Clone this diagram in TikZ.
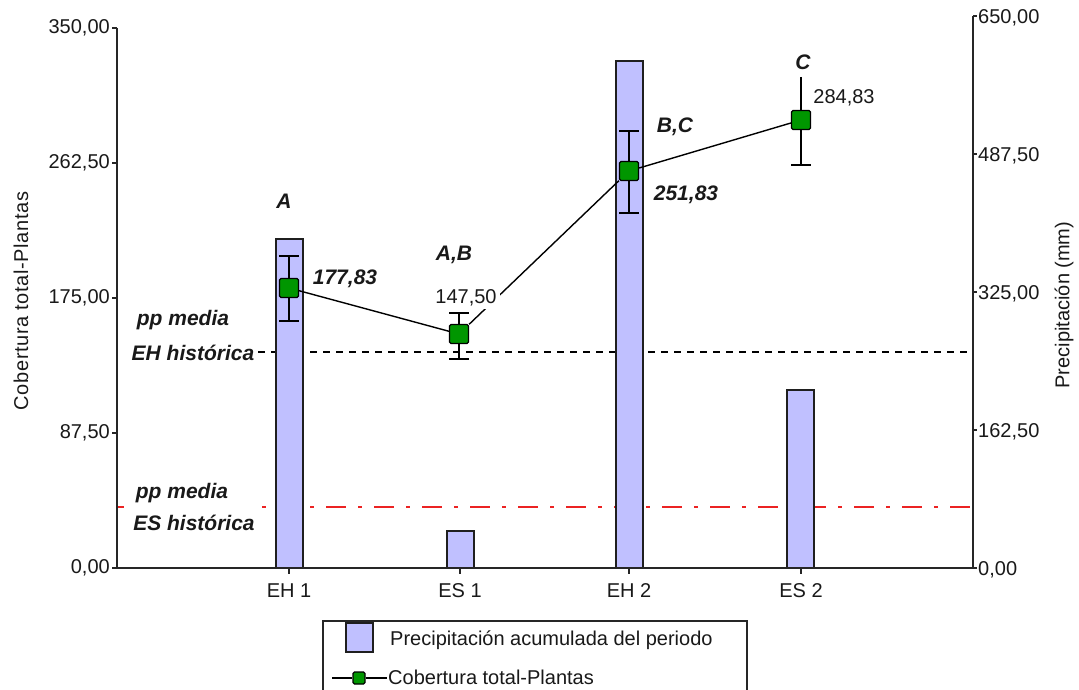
\documentclass[tikz,border=0pt]{standalone}
\usepackage{fontspec}
\setmainfont{Liberation Sans}
\definecolor{barfill}{RGB}{192,192,255}
\definecolor{ptgreen}{RGB}{0,150,0}
\definecolor{txt}{RGB}{25,25,25}
\definecolor{ppred}{RGB}{235,35,35}
\begin{document}
\begin{tikzpicture}[x=1pt,y=-1pt,
  font=\fontsize{20}{24}\selectfont, text=txt,
  axis/.style={line width=2pt, draw=black!85},
  tickmark/.style={line width=1.4pt, draw=black!85},
  barbox/.style={draw=black!88, line width=1.8pt, fill=barfill},
  errbar/.style={line width=1.4pt, draw=black},
  ptbox/.style={rectangle, draw=black, fill=ptgreen, line width=1.2pt, minimum size=19pt, inner sep=0pt, rounded corners=1.5pt},
  conn/.style={line width=1.4pt, draw=black},
  ticklbl/.style={inner sep=0pt},
  sig/.style={font=\fontsize{21}{25}\selectfont\bfseries\itshape, inner sep=1pt},
  vallbl/.style={inner sep=3pt},
  hist/.style={font=\fontsize{21}{25}\selectfont\bfseries\itshape, inner sep=0pt},
  blackdash/.style={line width=1.3pt, dash pattern=on 7pt off 6pt},
  reddash/.style={line width=1.6pt, draw=ppred, dash pattern=on 4pt off 12pt on 20pt off 12pt}
]
\clip (0,0) rectangle (1079,690);
\fill[white] (0,0) rectangle (1079,690);

% reference lines
\draw[blackdash] (258,352) -- (973,352);
\draw[line width=1.6pt, draw=ppred] (117,507) -- (124,507);
\draw[reddash] (262,507) -- (973,507);

% bars
\draw[barbox] (276,568) rectangle (303,239);
\draw[barbox] (447,568) rectangle (474,531);
\draw[barbox] (616,568) rectangle (643,61);
\draw[barbox] (787,568) rectangle (814,390);

% axes
\draw[axis] (117,28) -- (117,568) -- (973,568);
\draw[axis] (973,16) -- (973,568);

% left ticks
\foreach \yy/\lab in {28/{350,00},163/{262,50},298/{175,00},433/{87,50},568/{0,00}}{
  \draw[tickmark] (112,\yy) -- (117,\yy);
  \node[ticklbl, anchor=east] at (110,\yy) {\lab};
}
% right ticks
\foreach \yy/\lab in {16/{650,00},154/{487,50},292/{325,00},430/{162,50},568/{0,00}}{
  \draw[tickmark] (973,\yy) -- (977,\yy);
  \node[ticklbl, anchor=west] at (978,\yy+2) {\lab};
}
% category ticks and labels
\foreach \xx/\lab in {289/{EH 1},460/{ES 1},629/{EH 2},801/{ES 2}}{
  \draw[tickmark] (\xx,568) -- (\xx,574);
  \node[ticklbl] at (\xx,591) {\lab};
}

% axis titles
\node[rotate=90, inner sep=0pt] (ytl) at (21,301) {\addfontfeature{LetterSpace=3}Cobertura total-Plantas};
\node[rotate=90, inner sep=0pt] (ytr) at (1064,305) {Precipitación (mm)};

% error bars
\draw[errbar] (279,256) -- (299,256) (289,256) -- (289,321) (279,321) -- (299,321);
\draw[errbar] (449,313) -- (469,313) (459,313) -- (459,359) (449,359) -- (469,359);
\draw[errbar] (619,131) -- (639,131) (629,131) -- (629,213) (619,213) -- (639,213);
\draw[errbar] (801,77) -- (801,165) (791,165) -- (811,165);

% points
\node[ptbox] (pEH1) at (289,288) {};
\node[ptbox] (pES1) at (459,334) {};
\node[ptbox] (pEH2) at (629,171) {};
\node[ptbox] (pES2) at (801,120) {};

% connectors
\draw[conn] (pEH1) -- (pES1);
\draw[conn] (pES1) -- (pEH2);
\draw[conn] (pEH2) -- (pES2);

% value labels
\node[sig] (lA) at (284,201) {A};
\node[sig] (lAB) at (454,255) {A,B};
\node[sig] (lBC) at (675,127) {B,C};
\node[sig] (lC) at (803,62) {C};
\node[sig] (v1) at (345,279) {177,83};
\node[vallbl, fill=white] (v2) at (466,298) {147,50};
\node[sig] (v3) at (686,195) {251,83};
\node[vallbl] (v4) at (844,98) {284,83};

% historic labels
\node[hist] (h1) at (183,320) {pp media};
\node[hist] (h2) at (193,353) {EH histórica};
\node[hist] (h3) at (182,493) {pp media};
\node[hist] (h4) at (194,523) {ES histórica};

% legend
\draw[line width=1.4pt, draw=black!85] (323,621) rectangle (747,700);
\node[barbox, minimum width=27pt, minimum height=29pt, inner sep=0pt] (legbar) at (359.5,637.5) {};
\node[ticklbl, anchor=west] (legt1) at (390,640) {Precipitación acumulada del periodo};
\coordinate (lgA) at (332,678);
\coordinate (lgB) at (387,678);
\node[ptbox, minimum size=12pt] (legpt) at (359,678) {};
\draw[conn] (lgA) -- (legpt);
\draw[conn] (legpt) -- (lgB);
\node[ticklbl, anchor=west] (legt2) at (388,677) {Cobertura total-Plantas};
\end{tikzpicture}
\end{document}
